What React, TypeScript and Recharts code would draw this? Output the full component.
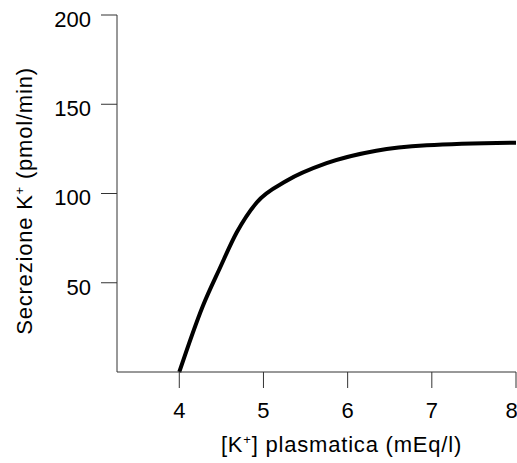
import { Line, LineChart, XAxis, YAxis } from "recharts"

// [K+] plasmatica (mEq/l) vs secrezione K+ (pmol/min)
const potassium = [4.0, 4.28, 4.48, 4.68, 4.92, 5.27, 5.75, 6.34, 6.94, 8.0]
const secretion = [0, 37, 58, 78, 95, 107, 117, 124, 127, 128.5]
const xTicks = [4, 5, 6, 7, 8]
const yTicks = [50, 100, 150, 200]

const data = potassium.map((k, i) => ({ k, value: secretion[i] }))

const font = "'Liberation Sans', Arial, Helvetica, sans-serif"
const ink = "#000"

function XTitle(props: any) {
  const { viewBox } = props
  const cx = viewBox.x + viewBox.width / 2 + 25
  const y = viewBox.y + 80
  return (
    <text x={cx} y={y} textAnchor="middle" fontFamily={font} fontSize={22} letterSpacing={0.8} fill={ink}>
      [K
      <tspan dy={-8} fontSize={13}>+</tspan>
      <tspan dy={8}>] plasmatica (mEq/l)</tspan>
    </text>
  )
}

function YTitle() {
  const x = 32
  const y = 201
  return (
    <text
      x={x}
      y={y}
      transform={`rotate(-90 ${x} ${y})`}
      textAnchor="middle"
      fontFamily={font}
      fontSize={22}
      letterSpacing={0.8}
      fill={ink}
    >
      Secrezione K
      <tspan dy={-8} fontSize={13}>+</tspan>
      <tspan dy={8}> (pmol/min)</tspan>
    </text>
  )
}

export default function App() {
  return (
    <div style={{ position: "absolute", left: 0, top: 0 }}>
      <LineChart width={517} height={463} data={data} margin={{ top: 15, right: 1, bottom: 0, left: 0 }}>
        <XAxis
          dataKey="k"
          type="number"
          domain={[3.26, 8]}
          ticks={xTicks}
          allowDataOverflow
          height={91}
          tickSize={16}
          tickMargin={14}
          stroke="#333"
          tick={{ fill: ink, fontSize: 22, fontFamily: font }}
          label={XTitle}
        />
        <YAxis
          type="number"
          domain={[0, 200]}
          ticks={yTicks}
          width={117}
          tickSize={16}
          tickMargin={10}
          stroke="#333"
          tick={{ fill: ink, fontSize: 22, fontFamily: font, dy: 4 }}
          label={YTitle}
        />
        <Line
          type="monotone"
          dataKey="value"
          stroke="#000"
          strokeWidth={4}
          dot={false}
          isAnimationActive={false}
        />
      </LineChart>
    </div>
  )
}
